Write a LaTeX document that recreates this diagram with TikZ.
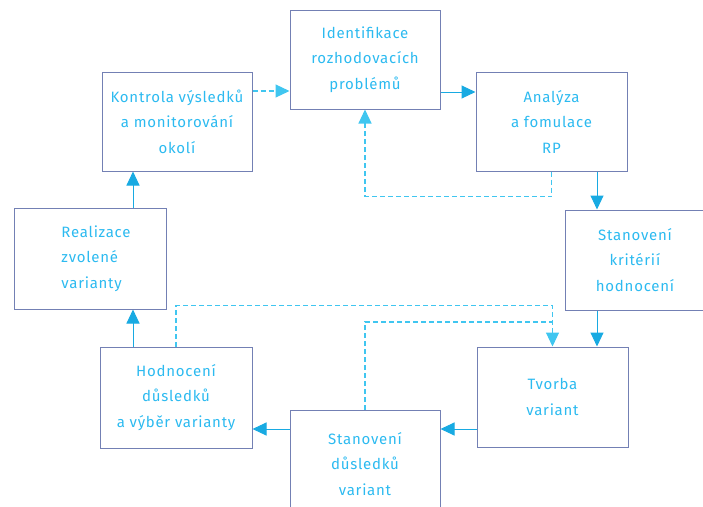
\documentclass[tikz,border=0pt]{standalone}
\usepackage{fontspec}
\setmainfont{Fira Sans}[LetterSpace=5]
\usetikzlibrary{arrows.meta,calc}
\definecolor{boxcol}{HTML}{7380B4}
\definecolor{txtcol}{HTML}{2CBAF0}
\definecolor{arrcol}{HTML}{18AAE2}
\definecolor{dashcol}{HTML}{40C6F0}
\tikzset{
  box/.style={draw=boxcol, line width=1pt, rectangle, inner sep=0pt,
    text=txtcol, align=center, font=\fontsize{15}{25.5}\selectfont},
  arr/.style={draw=arrcol, line width=1pt, -{Triangle[length=14pt,width=13pt]}},
  darr/.style={draw=dashcol, line width=1.1pt, dash pattern=on 5pt off 3pt, -{Triangle[length=14pt,width=13pt]}},
  dline/.style={draw=dashcol, line width=1.1pt, dash pattern=on 5pt off 3pt}
}
\begin{document}
\begin{tikzpicture}[x=1pt,y=-1pt]
\useasboundingbox (0,0) rectangle (703,506);
\node[box, minimum width=150pt, minimum height=99pt] (ident) at (365,59.5) {Identifikace\\rozhodovacích\\problémů};
\node[box, minimum width=150pt, minimum height=99pt] (kontrola) at (177,121.5) {Kontrola výsledků\\a monitorování\\okolí};
\node[box, minimum width=151pt, minimum height=99pt] (analyza) at (551.5,121.5) {Analýza\\a fomulace\\RP};
\node[box, minimum width=140pt, minimum height=100pt] (krit) at (635,260) {Stanovení\\kritérií\\hodnocení};
\node[box, minimum width=152pt, minimum height=101pt, align=left] (realizace) at (90,258.5) {\hspace*{12pt}Realizace\\\hspace*{12pt}zvolené\\\hspace*{12pt}varianty};
\node[box, minimum width=152pt, minimum height=101pt] (hodnoceni) at (176,397.5) {Hodnocení\\důsledků\\a výběr varianty};
\node[box, minimum width=151pt, minimum height=100pt] (tvorba) at (552.5,397) {Tvorba\\variant};
\node[box, minimum width=150pt, minimum height=105pt, anchor=north] (dusledky) at (365,410) {};
\node[text=txtcol, align=center, font=\fontsize{15}{25.5}\selectfont] (dustext) at (365,464) {Stanovení\\důsledků\\variant};

% main cycle
\path ([yshift=30.5pt]kontrola.east) coordinate (k1);
\draw[darr] (k1) -- (k1 -| ident.west);
\path ([yshift=-32.5pt]ident.east) coordinate (i1);
\draw[arr] (i1) -- (i1 -| analyza.west);
\path ([xshift=45.5pt]analyza.south) coordinate (a1);
\draw[arr] (a1) -- (a1 |- krit.north);
\draw[arr] (a1 |- krit.south) -- (a1 |- tvorba.north);
\path ([yshift=-32pt]tvorba.west) coordinate (t1);
\draw[arr] (t1) -- (t1 -| dusledky.east);
\draw[arr] (t1 -| dusledky.west) -- (t1 -| hodnoceni.east);
\path ([xshift=-43pt]hodnoceni.north) coordinate (h1);
\draw[arr] (h1) -- (h1 |- realizace.south);
\draw[arr] (h1 |- realizace.north) -- (h1 |- kontrola.south);

% feedback loops
\draw[darr] (analyza.south) -- ++(0,25) -| (ident.south);
\draw[darr] (hodnoceni.north) -- ++(0,-41) -| (tvorba.north);
\draw[dline] (dusledky.north) |- ++(188,-88);
\end{tikzpicture}
\end{document}
